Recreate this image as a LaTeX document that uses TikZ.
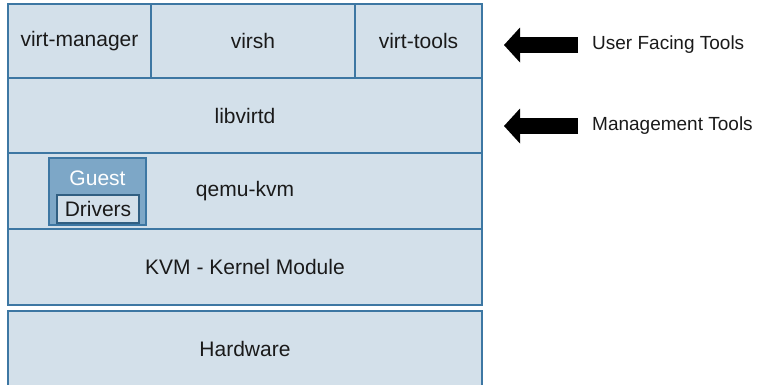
\documentclass[tikz,border=0pt]{standalone}
\usepackage{fontspec}
\setmainfont{Liberation Sans}
\usetikzlibrary{arrows.meta,positioning}
\definecolor{layerfill}{HTML}{D3E0EA}
\definecolor{layeredge}{HTML}{3D77A3}
\definecolor{guestfill}{HTML}{7DA7C7}
\definecolor{ink}{HTML}{1A1A1A}

\begin{document}
\begin{tikzpicture}[x=1pt,y=-1pt,
    font=\fontsize{21}{25}\selectfont,text=ink,
    layer/.style={draw=layeredge,fill=layerfill,line width=1.2pt,
                  minimum height=#1,inner sep=0pt,align=center},
    layer/.default=75pt,
    guestbox/.style={draw=layeredge,fill=guestfill,line width=1.2pt,
                     minimum width=97pt,minimum height=67pt,inner sep=0pt},
    drvbox/.style={draw=layeredge!80!black,fill=layerfill,line width=1.2pt,
                   minimum width=82pt,minimum height=28pt,inner sep=0pt},
    side/.style={font=\fontsize{19}{23}\selectfont,anchor=west,inner sep=0pt},
    blockarr/.style={black,line width=16pt,line cap=butt,
                     -{Triangle[length=16pt,width=35pt,line width=0pt]}}]
  \useasboundingbox (0,0) rectangle (771,384);
  % user facing row
  \node[layer=74pt,minimum width=143pt] (vman)   at (79.5,41)  {virt-manager};
  \node[layer=74pt,minimum width=204pt] (virsh)  at (253,41)   {virsh};
  \node[layer=74pt,minimum width=127pt] (vtools) at (418.5,41) {virt-tools};
  % lower layers
  \node[layer,minimum width=474pt]     (libvirt) at (245,115.5) {libvirtd};
  \node[layer=76pt,minimum width=474pt] (qemu)   at (245,191)   {qemu-kvm};
  \node[layer=76pt,minimum width=474pt] (kvm)    at (245,267)   {KVM - Kernel Module};
  \node[layer,minimum width=474pt]     (hw)      at (245,348.5) {Hardware};
  % guest drivers inside qemu
  \node[guestbox] (guest) at (97.5,191.5) {};
  \node[drvbox] (drv) at (98,209) {Drivers};
  \node[text=white,inner sep=0pt] (guestlbl) at (97.5,178) {Guest};
  % side labels
  \node[side] (ufl) at (592,45)  {User Facing Tools};
  \node[side] (mgl) at (592,126) {Management Tools};
  \coordinate (ufa) at (504,45);
  \coordinate (mga) at (504,126);
  \draw[blockarr] ([xshift=-14pt]ufl.west) -- (ufa);
  \draw[blockarr] ([xshift=-14pt]mgl.west) -- (mga);
\end{tikzpicture}
\end{document}
